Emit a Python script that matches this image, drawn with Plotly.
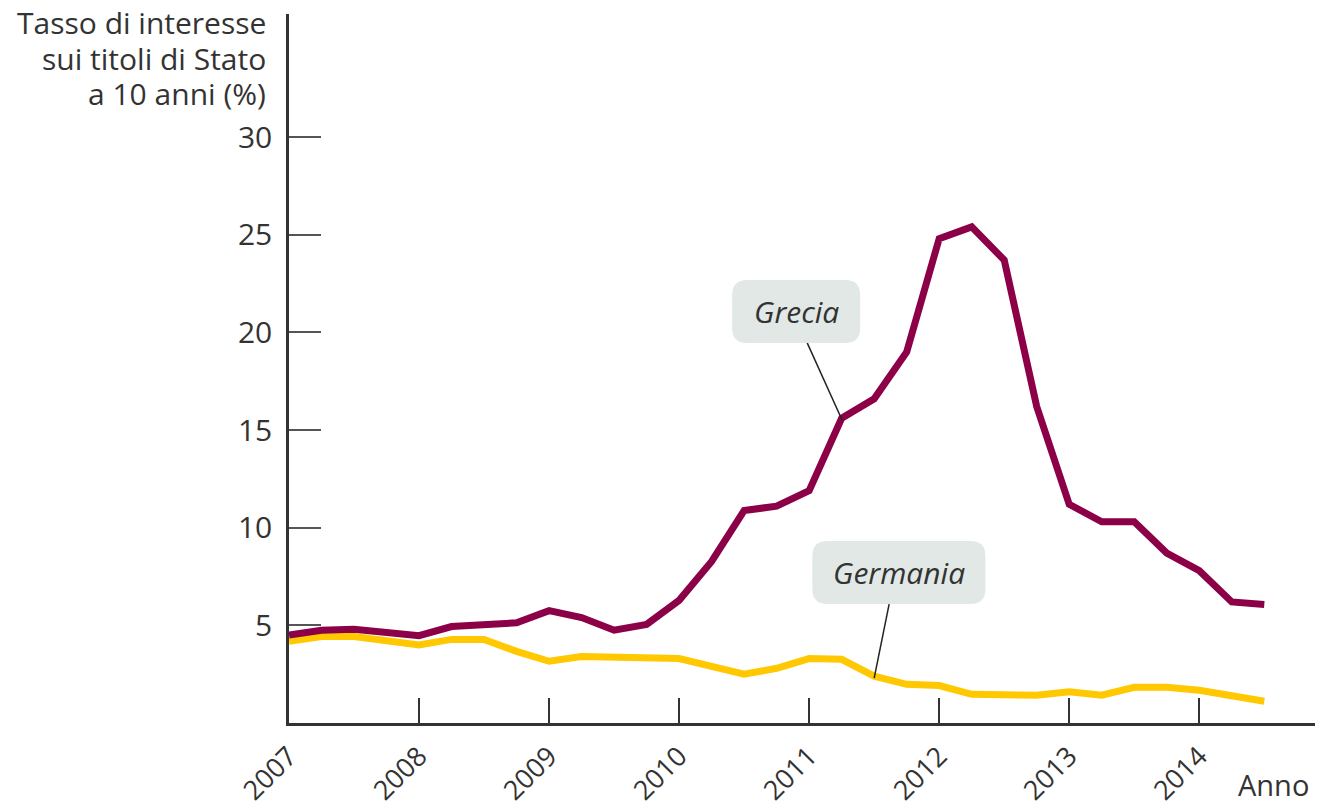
import plotly.graph_objects as go

# ---- data ----
quarters = [2007 + 0.25 * i for i in range(31)]
grecia = [4.5, 4.75, 4.8, 4.63, 4.47, 4.94, 5.05, 5.13, 5.75, 5.4, 4.75, 5.05,
          6.28, 8.27, 10.88, 11.1, 11.9, 15.6, 16.6, 19.0, 24.8, 25.4, 23.7, 16.2,
          11.2, 10.3, 10.3, 8.7, 7.8, 6.2, 6.07]
germania = [4.18, 4.43, 4.43, 4.23, 4.0, 4.28, 4.28, 3.67, 3.16, 3.4, 3.37, 3.27,
            3.3, 2.9, 2.5, 2.8, 3.3, 3.26, 2.4, 1.98, 1.92, 1.47, 1.42, 1.42,
            1.6, 1.42, 1.83, 1.83, 1.68, 1.42, 1.11]
x_ticks = [2007, 2008, 2009, 2010, 2011, 2012, 2013, 2014]
x_tick_labels = [str(v) for v in x_ticks]
y_ticks = [5, 10, 15, 20, 25, 30]
y_tick_labels = [str(v) for v in y_ticks]
series_names = ["Grecia", "Germania"]
y_title_lines = ["Tasso di interesse", "sui titoli di Stato", "a 10 anni (%)"]
x_title = "Anno"

# ---- styling ----
FONT = "Open Sans"
TXT = "#333333"
C_GRE = "#8C0048"
C_GER = "#FFC800"
BOX = "#E1E8E5"
FS = 30

X_RANGE = [2007, 2014.89]
Y_RANGE = [0, 36.3]
L, R, T, B = 289, 2, 14, 85
W, H = 1317, 808
PLOT_W = W - L - R
PLOT_H = H - T - B
PX_X = PLOT_W / (X_RANGE[1] - X_RANGE[0])
PX_Y = PLOT_H / (Y_RANGE[1] - Y_RANGE[0])


def rounded_box(cx, cy, wpx, hpx, rpx):
    hw = wpx / 2 / PX_X
    hh = hpx / 2 / PX_Y
    rx = rpx / PX_X
    ry = rpx / PX_Y
    x0, x1 = cx - hw, cx + hw
    y0, y1 = cy - hh, cy + hh
    return (f"M{x0 + rx},{y1} L{x1 - rx},{y1} Q{x1},{y1} {x1},{y1 - ry} "
            f"L{x1},{y0 + ry} Q{x1},{y0} {x1 - rx},{y0} "
            f"L{x0 + rx},{y0} Q{x0},{y0} {x0},{y0 + ry} "
            f"L{x0},{y1 - ry} Q{x0},{y1} {x0 + rx},{y1} Z")


fig = go.Figure()
fig.add_trace(go.Scatter(x=quarters, y=germania, mode="lines", name=series_names[1],
                         line=dict(color=C_GER, width=7), showlegend=False))
fig.add_trace(go.Scatter(x=quarters, y=grecia, mode="lines", name=series_names[0],
                         line=dict(color=C_GRE, width=7), showlegend=False))

# label boxes + connectors
labels = [
    (series_names[0], 2010.9, 21.07, 128, 63, (2010.985, 19.46), (2011.254, 15.5)),
    (series_names[1], 2011.69, 7.71, 173, 63, (2011.615, 6.09), (2011.5, 2.3)),
]
for name, cx, cy, wpx, hpx, p0, p1 in labels:
    fig.add_shape(type="line", x0=p0[0], y0=p0[1], x1=p1[0], y1=p1[1],
                  line=dict(color="#222222", width=1.5), layer="above")
    fig.add_shape(type="path", path=rounded_box(cx, cy, wpx, hpx, 15),
                  fillcolor=BOX, line=dict(width=0), layer="above")
    fig.add_annotation(x=cx, y=cy, text=f"<i>{name}</i>", showarrow=False,
                       font=dict(family=FONT, size=FS, color=TXT))

# y-axis title, one annotation per line
for line_text, cpx in zip(y_title_lines, [22.5, 58.0, 93.5]):
    fig.add_annotation(xref="paper", yref="paper", x=(268 - L) / PLOT_W,
                       y=(H - B - cpx) / PLOT_H, xanchor="right", yanchor="middle",
                       showarrow=False, text=line_text,
                       font=dict(family=FONT, size=FS, color=TXT))
fig.add_annotation(xref="paper", yref="paper", x=(1311 - L) / PLOT_W, y=-61 / PLOT_H,
                   xanchor="right", yanchor="middle", showarrow=False,
                   text=x_title, font=dict(family=FONT, size=29, color=TXT))

fig.update_xaxes(range=X_RANGE, tickvals=x_ticks, ticktext=x_tick_labels,
                 tickangle=-45, ticks="inside", ticklen=25, tickwidth=2,
                 tickcolor=TXT, showline=True, linecolor=TXT, linewidth=2.5,
                 showgrid=False, zeroline=False, automargin=False,
                 ticklabelstandoff=4,
                 tickfont=dict(family=FONT, size=27, color=TXT))
fig.update_yaxes(range=Y_RANGE, tickvals=y_ticks, ticktext=y_tick_labels,
                 ticks="inside", ticklen=32, tickwidth=1.5, tickcolor="#555555",
                 showline=True, linecolor=TXT, linewidth=2.5, showgrid=False,
                 zeroline=False, ticklabelstandoff=8, automargin=False,
                 tickfont=dict(family=FONT, size=FS, color=TXT))

fig.update_layout(width=W, height=H, margin=dict(l=L, r=R, t=T, b=B, autoexpand=False),
                  plot_bgcolor="white", paper_bgcolor="white",
                  font=dict(family=FONT, color=TXT))

fig.write_html("out.html", config={"displayModeBar": False},
               post_script="document.body.style.margin='0';document.body.style.padding='0';")
